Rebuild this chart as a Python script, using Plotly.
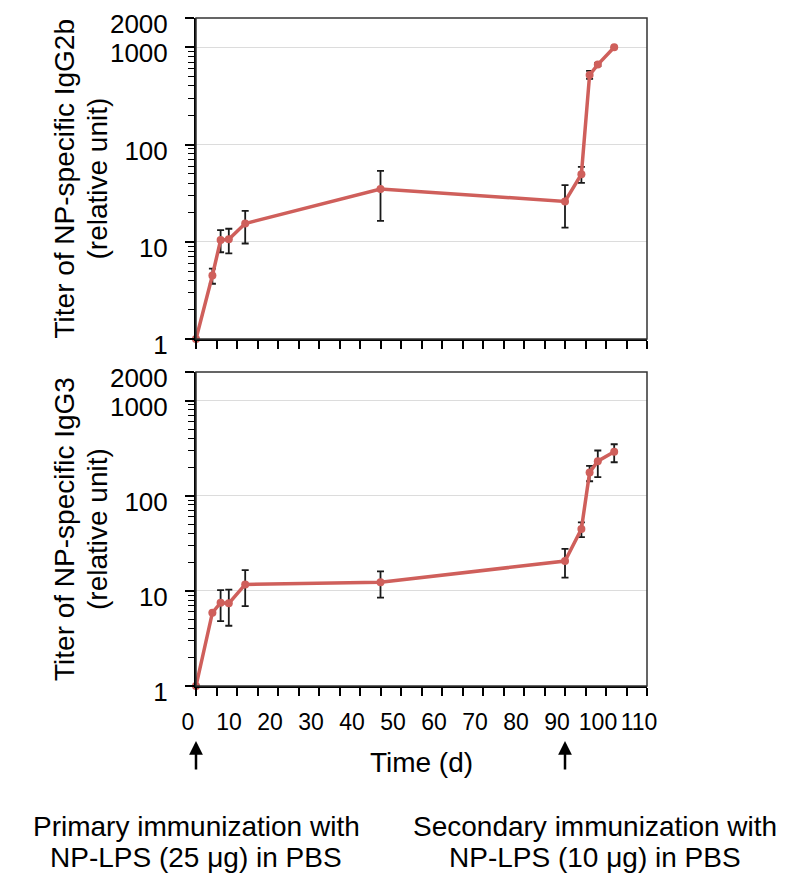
import math
import plotly.graph_objects as go

# ---- data ----
days = [0, 4, 6, 8, 12, 45, 90, 94, 96, 98, 102]

igg2b = [1, 4.5, 10.4, 10.6, 15.4, 34.8, 26.0, 49.6, 520, 664, 1000]
igg2b_hi = [1, 5.3, 13.2, 13.6, 20.8, 53.6, 38.2, 59.0, 571, 690, 1000]
igg2b_lo = [1, 3.7, 7.8, 7.6, 9.6, 16.4, 14.0, 40.4, 473, 640, 1000]

igg3 = [1, 5.9, 7.5, 7.4, 11.7, 12.3, 20.6, 44.7, 176, 231, 290]
igg3_hi = [1, 5.9, 10.2, 10.3, 16.5, 16.0, 27.6, 52.5, 206, 299, 348]
igg3_lo = [1, 5.9, 4.8, 4.3, 6.9, 8.5, 13.8, 36.8, 142, 157, 225]

y_tickvals = [1, 10, 100, 1000, 2000]
y_ticktext = ["1", "10", "100", "1000", "2000"]
x_tickvals = list(range(0, 111, 10))
immunization_days = [0, 90]
immunization_text = [
    ["Primary immunization with", "NP-LPS (25 \u03bcg) in PBS"],
    ["Secondary immunization with", "NP-LPS (10 \u03bcg) in PBS"],
]
y_titles = [["Titer of NP-specific IgG2b", "(relative unit)"],
            ["Titer of NP-specific IgG3", "(relative unit)"]]

# ---- style ----
# the page body has an 8px margin: the figure is sized so it ends at the window edge
OFF = 8
W, H = 800 - OFF, 876 - OFF
LINE = "#cf5f5b"
FONT = "Liberation Sans, Arial, sans-serif"


def px(p):
    return (p - OFF) / W


def py(p):
    return 1 - (p - OFF) / H


x_dom = [px(196), px(647)]
top_dom = [py(339), py(18)]
bot_dom = [py(686), py(372)]

minor_vals = [m * 10 ** e for e in range(0, 3) for m in range(2, 10)]


def err(v, hi, lo):
    return [h - a for a, h in zip(v, hi)], [a - l for a, l in zip(v, lo)]


fig = go.Figure()
for vals, hi, lo, xa, ya in [(igg2b, igg2b_hi, igg2b_lo, "x", "y"),
                             (igg3, igg3_hi, igg3_lo, "x2", "y2")]:
    plus, minus = err(vals, hi, lo)
    fig.add_trace(go.Scatter(
        x=days, y=vals, xaxis=xa, yaxis=ya, mode="lines+markers",
        line=dict(color=LINE, width=3.5),
        marker=dict(color=LINE, size=8),
        error_y=dict(type="data", array=plus, arrayminus=minus, symmetric=False,
                     color="#1a1a1a", thickness=1.8, width=3.5),
        showlegend=False, cliponaxis=False,
    ))

xcommon = dict(range=[0, 110], domain=x_dom, tickvals=x_tickvals,
               ticks="outside", ticklen=8, tickwidth=1.5, tickcolor="black",
               showline=True, linecolor="black", linewidth=2,
               showgrid=False, zeroline=False, automargin=False,
               minor=dict(dtick=5, tick0=0, ticks="outside", ticklen=8,
                          tickwidth=1.5, tickcolor="black", showgrid=False))
ycommon = dict(type="log", range=[0, math.log10(2000)],
               tickvals=y_tickvals, ticktext=y_ticktext,
               ticks="outside", ticklen=9, tickwidth=1.5, tickcolor="black",
               tickfont=dict(family=FONT, size=26, color="black"),
               ticklabelstandoff=12, ticklabeloverflow="allow",
               ticklabelshift=6,
               showline=True, linecolor="black", linewidth=2,
               showgrid=True, gridcolor="#dcdcdc", gridwidth=1.2,
               zeroline=False, automargin=False,
               minor=dict(tickvals=minor_vals, ticks="outside", ticklen=6,
                          tickwidth=1.2, tickcolor="black", showgrid=False))

fig.update_layout(
    width=W, height=H, margin=dict(l=0, r=0, t=0, b=0),
    paper_bgcolor="white", plot_bgcolor="white",
    font=dict(family=FONT, color="black"),
    xaxis=dict(xcommon, anchor="y", showticklabels=False),
    yaxis=dict(ycommon, domain=top_dom, anchor="x"),
    xaxis2=dict(xcommon, anchor="y2", showticklabels=True, tickangle=0,
                tickfont=dict(family=FONT, size=23, color="black"),
                ticklabelshift=-8, ticklabelstandoff=6,
                title=dict(text="Time (d)", font=dict(family=FONT, size=28),
                           standoff=19)),
    yaxis2=dict(ycommon, domain=bot_dom, anchor="x2"),
)

# plot frames (top/right borders)
for dom in (top_dom, bot_dom):
    fig.add_shape(type="rect", xref="paper", yref="paper",
                  x0=x_dom[0], x1=x_dom[1], y0=dom[0], y1=dom[1],
                  line=dict(color="#333333", width=1.5), layer="above")

# y-axis titles
for (l1, l2), dom in zip(y_titles, (top_dom, bot_dom)):
    yc = (dom[0] + dom[1]) / 2
    for txt, xc in ((l1, 64), (l2, 97)):
        fig.add_annotation(text=txt, xref="paper", yref="paper", x=px(xc), y=yc,
                           xanchor="center", yanchor="middle", textangle=-90,
                           showarrow=False, font=dict(family=FONT, size=28))

# immunization arrows and labels
label_centers = [196, 595]
for d, (l1, l2), xc in zip(immunization_days, immunization_text, label_centers):
    fig.add_annotation(x=d, xref="x2", y=py(741), yref="paper", text="",
                       showarrow=True, arrowhead=2, arrowsize=1.1, arrowwidth=2.5,
                       arrowcolor="black", ax=0, ay=30)
    fig.add_annotation(text=l1, xref="paper", yref="paper", x=px(xc), y=py(826),
                       xanchor="center", yanchor="middle", showarrow=False,
                       font=dict(family=FONT, size=28))
    fig.add_annotation(text=l2, xref="paper", yref="paper", x=px(xc), y=py(857),
                       xanchor="center", yanchor="middle", showarrow=False,
                       font=dict(family=FONT, size=28))

fig.write_html("out.html")
